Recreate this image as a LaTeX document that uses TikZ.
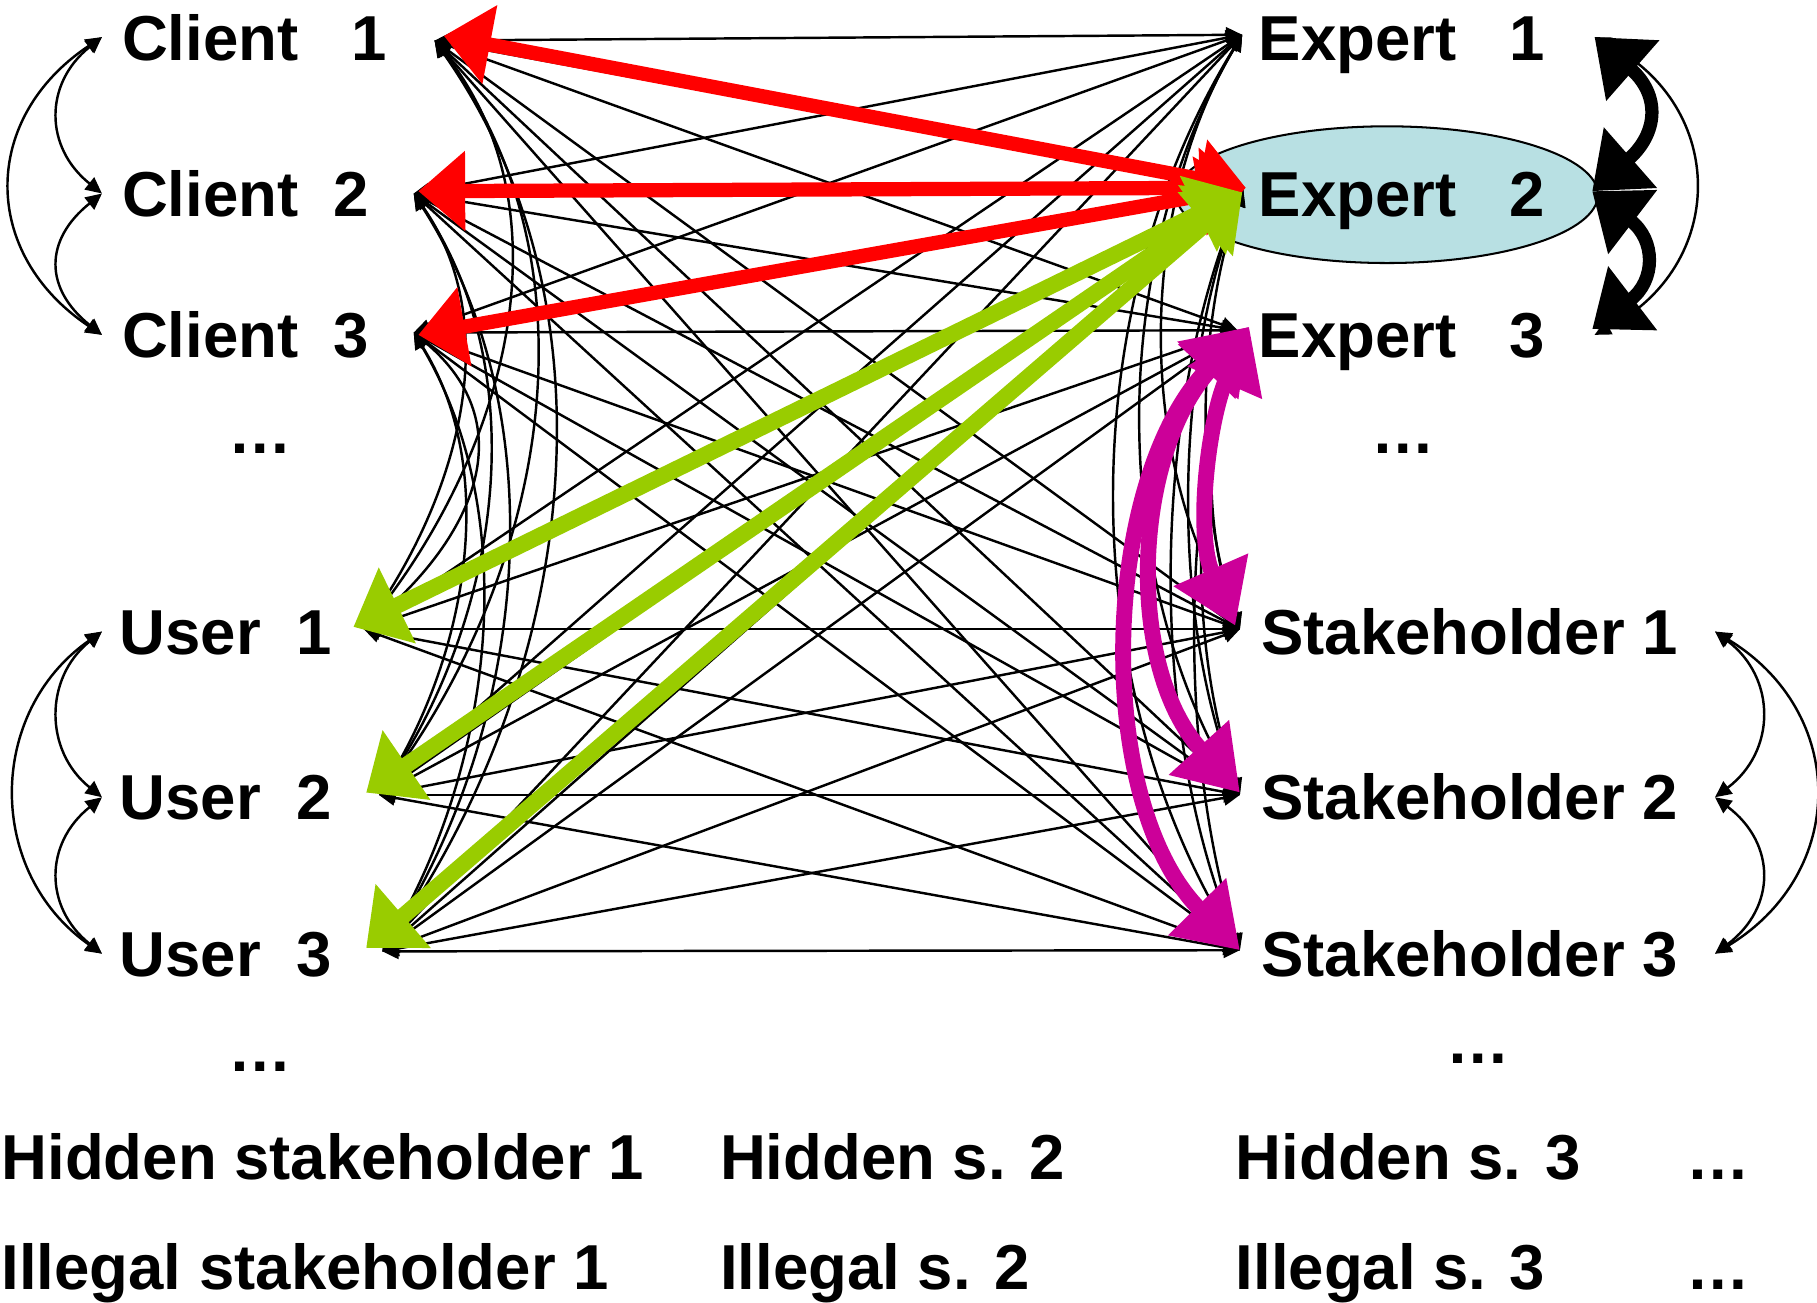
\documentclass[tikz,border=0pt]{standalone}
\usepackage{fontspec}
\setmainfont{Liberation Sans}
\usetikzlibrary{arrows.meta,shapes.geometric}
\definecolor{rd}{HTML}{FF0000}
\definecolor{gn}{HTML}{99CC00}
\definecolor{mg}{HTML}{CC0099}
\definecolor{ef}{HTML}{B8E0E3}
\begin{document}
\begin{tikzpicture}[x=0.02cm,y=-0.02cm,
 lbl/.style={inner sep=0pt, font=\fontsize{31.2}{36}\selectfont\bfseries},
 lnk/.style={line width=1.2pt, {Triangle[length=8pt,width=7.5pt]}-{Triangle[length=8pt,width=7.5pt]}},
 redarr/.style={draw=rd, line width=7pt, {Triangle[length=23pt,width=38pt]}-{Triangle[length=23pt,width=38pt]}},
 grnarr/.style={draw=gn, line width=8pt, {Triangle[length=24pt,width=40pt]}-{Triangle[length=24pt,width=40pt]}},
 magarr/.style={draw=mg, line width=7.8pt, {Triangle[length=30pt,width=38pt]}-{Triangle[length=30pt,width=38pt]}},
 blkarr/.style={draw=black, line width=6.5pt, {Triangle[length=25pt,width=38pt]}-{Triangle[length=25pt,width=38pt]}},
]
\useasboundingbox (0,0) rectangle (1568,1124);

% background ellipse round Expert 2
\node[ellipse, draw, line width=1pt, fill=ef, minimum width=7.28cm, minimum height=2.36cm, inner sep=0pt] (ell) at (1197,168) {};

% anchor points
\coordinate (c1) at (375,35);
\coordinate (c2) at (357,167);
\coordinate (c3) at (357,287);
\coordinate (u1) at (314,543);
\coordinate (u2) at (327,686);
\coordinate (u3) at (330,821);
\coordinate (e1) at (1072,30);
\coordinate (e2) at (1073,164);
\coordinate (e3) at (1068,285);
\coordinate (s1) at (1070,543);
\coordinate (s2) at (1070,686);
\coordinate (s3) at (1070,820);
% coloured arrow ends
\coordinate (rc1) at (383,31);
\coordinate (rc2) at (361,165);
\coordinate (rc3) at (361,289);
\coordinate (re2) at (1075,162);
\coordinate (gu1) at (305,541);
\coordinate (gu2) at (316,684);
\coordinate (gu3) at (316,818);
\coordinate (ge2) at (1072,166);
\coordinate (e3m) at (1078,282);
\coordinate (ms1) at (1066,540);
\coordinate (ms2) at (1070,684);
\coordinate (ms3) at (1070,820);
% far left / right anchors
\coordinate (lc1) at (88,32);
\coordinate (lc2) at (88,167);
\coordinate (lc3) at (88,289);
\coordinate (lu1) at (88,545);
\coordinate (lu2) at (88,688);
\coordinate (lu3) at (88,823);
\coordinate (rs1) at (1480,545);
\coordinate (rs2) at (1480,688);
\coordinate (rs3) at (1480,823);
\coordinate (x1) at (1376,32);
\coordinate (x2) at (1374,165);
\coordinate (x3) at (1374,284);
\coordinate (x3b) at (1376,289);

% straight black links
\foreach \a in {c1,c2,c3,u1,u2,u3}
  \foreach \b in {e1,e2,e3,s1,s2,s3}
    \draw[lnk] (\a) -- (\b);

% left middle curves
\draw[lnk] (c1) .. controls +(120,150) and +(120,-150) .. (u1);
\draw[lnk] (c1) .. controls +(145,195) and +(145,-195) .. (u2);
\draw[lnk] (c1) .. controls +(165,235) and +(165,-235) .. (u3);
\draw[lnk] (c2) .. controls +(80,115) and +(80,-115) .. (u1);
\draw[lnk] (c2) .. controls +(105,155) and +(105,-155) .. (u2);
\draw[lnk] (c2) .. controls +(125,195) and +(125,-195) .. (u3);
\draw[lnk] (c3) .. controls +(95,80) and +(95,-80) .. (u1);
\draw[lnk] (c3) .. controls +(75,120) and +(75,-120) .. (u2);
\draw[lnk] (c3) .. controls +(95,160) and +(95,-160) .. (u3);

% right middle curves
\draw[lnk] (e1) .. controls +(-90,150) and +(-90,-150) .. (s1);
\draw[lnk] (e1) .. controls +(-115,195) and +(-115,-195) .. (s2);
\draw[lnk] (e1) .. controls +(-145,235) and +(-145,-235) .. (s3);
\draw[lnk] (e2) .. controls +(-40,115) and +(-40,-115) .. (s1);
\draw[lnk] (e2) .. controls +(-60,155) and +(-60,-155) .. (s2);
\draw[lnk] (e2) .. controls +(-80,195) and +(-80,-195) .. (s3);
\draw[lnk] (e3) .. controls +(-30,80) and +(-30,-80) .. (s1);
\draw[lnk] (e3) .. controls +(-42,120) and +(-42,-120) .. (s2);
\draw[lnk] (e3) .. controls +(-50,160) and +(-50,-160) .. (s3);

% red arrows
\draw[redarr] (re2) -- (rc1);
\draw[redarr] (re2) -- (rc2);
\draw[redarr] (re2) -- (rc3);
% green arrows
\draw[grnarr] (ge2) -- (gu1);
\draw[grnarr] (ge2) -- (gu2);
\draw[grnarr] (ge2) -- (gu3);

% magenta arcs
\draw[magarr] (e3m) .. controls +(-35,80) and +(-35,-80) .. (ms1);
\draw[magarr] (e3m) .. controls +(-100,110) and +(-100,-110) .. (ms2);
\draw[magarr] (e3m) .. controls +(-128,130) and +(-128,-130) .. (ms3);

% far left arcs
\draw[lnk] (lc1) .. controls +(-50,40) and +(-50,-40) .. (lc2);
\draw[lnk] (lc2) .. controls +(-50,40) and +(-50,-40) .. (lc3);
\draw[lnk] (lc1) .. controls +(-105,70) and +(-105,-70) .. (lc3);
\draw[lnk] (lu1) .. controls +(-50,40) and +(-50,-40) .. (lu2);
\draw[lnk] (lu2) .. controls +(-50,40) and +(-50,-40) .. (lu3);
\draw[lnk] (lu1) .. controls +(-100,70) and +(-100,-70) .. (lu3);
% far right arcs
\draw[lnk] (rs1) .. controls +(53,40) and +(53,-40) .. (rs2);
\draw[lnk] (rs2) .. controls +(53,40) and +(53,-40) .. (rs3);
\draw[lnk] (rs1) .. controls +(115,70) and +(115,-70) .. (rs3);
% expert arcs
\draw[lnk] (x1) .. controls +(115,60) and +(115,-60) .. (x3b);
\draw[blkarr] (x1) .. controls +(57,50) and +(57,-50) .. (x2);
\draw[blkarr] (x2) .. controls +(55,42) and +(55,-42) .. (x3);

% labels
\node[lbl, anchor=base west] (tc1) at (105,52) {Client\ \ \ 1};
\node[lbl, anchor=base west] (tc2) at (105,186.5) {Client\ \ 2};
\node[lbl, anchor=base west] (tc3) at (105,308.5) {Client\ \ 3};
\node[lbl, anchor=base west] (tcd) at (197,391) {…};
\node[lbl, anchor=base west] (tu1) at (103,564.5) {User\ \ 1};
\node[lbl, anchor=base west] (tu2) at (103,707.5) {User\ \ 2};
\node[lbl, anchor=base west] (tu3) at (103,842.5) {User\ \ 3};
\node[lbl, anchor=base west] (tud) at (197,925) {…};
\node[lbl, anchor=base west] (te1) at (1086,52) {Expert\ \ \ 1};
\node[lbl, anchor=base west] (te2) at (1086,186.5) {Expert\ \ \ 2};
\node[lbl, anchor=base west] (te3) at (1086,308.5) {Expert\ \ \ 3};
\node[lbl, anchor=base west] (ted) at (1183,391) {…};
\node[lbl, anchor=base west] (ts1) at (1088,564.5) {Stakeholder 1};
\node[lbl, anchor=base west] (ts2) at (1088,707.5) {Stakeholder 2};
\node[lbl, anchor=base west] (ts3) at (1088,842.5) {Stakeholder 3};
\node[lbl, anchor=base west] (tsd) at (1248,918) {…};
\node[lbl, anchor=base west] (th1) at (1,1017.5) {Hidden stakeholder 1};
\node[lbl, anchor=base west] (th2) at (621,1017.5) {Hidden s. 2};
\node[lbl, anchor=base west] (th3) at (1066,1017.5) {Hidden s. 3};
\node[lbl, anchor=base west] (thd) at (1455,1017.5) {…};
\node[lbl, anchor=base west] (ti1) at (1,1112.5) {Illegal stakeholder 1};
\node[lbl, anchor=base west] (ti2) at (621,1112.5) {Illegal s. 2};
\node[lbl, anchor=base west] (ti3) at (1066,1112.5) {Illegal s. 3};
\node[lbl, anchor=base west] (tid) at (1455,1112.5) {…};
\end{tikzpicture}
\end{document}
